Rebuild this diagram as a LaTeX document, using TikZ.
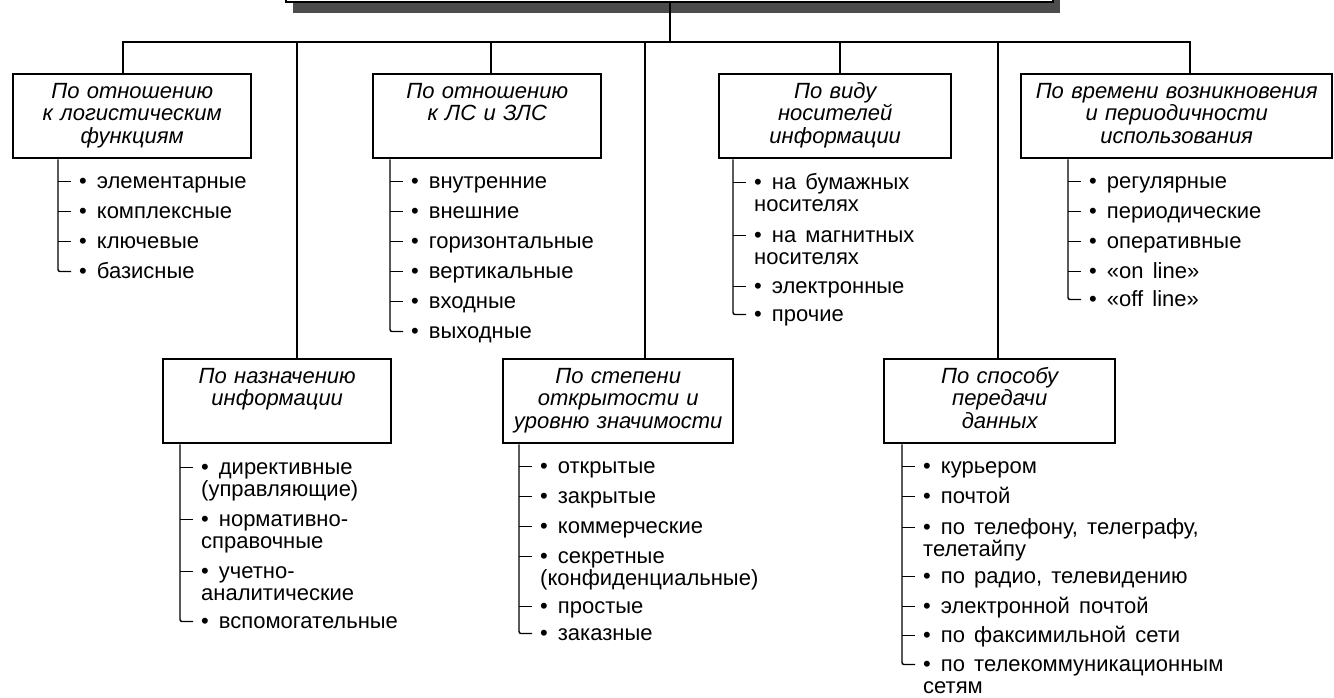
\documentclass[tikz,border=0pt]{standalone}
\usepackage{fontspec}
\setmainfont{Liberation Sans}[WordSpace=1.5]
\newfontfamily\headfont{Liberation Sans}[WordSpace=1.8]
% two-line entry whose baseline is that of its first line
\newcommand\pairlines[2]{\vtop{\hbox{#1}\hbox{#2}}}
\begin{document}
\begin{tikzpicture}[x=1pt,y=-1pt,
  conn/.style={line width=2.4pt},
  catbox/.style={draw, line width=2.4pt, fill=white, inner xsep=0pt, inner ysep=0pt,
    anchor=north west, align=center, text height=24pt, text depth=60pt,
    font=\headfont\itshape\fontsize{22pt}{22.5pt}\selectfont},
  entry/.style={anchor=base west, inner sep=0pt,
    font=\fontsize{22pt}{22.5pt}\selectfont},
  twig/.style={line width=1.4pt},
]
\path[use as bounding box, clip] (0,0) rectangle (1334,697);

% heading box with its shadow (only its lower edge is in view)
\fill[black!70] (293,-60) rectangle (1060,13);
\node[draw, line width=2.4pt, fill=white, minimum width=767pt, minimum height=80pt,
  inner sep=0pt, anchor=south west] (head) at (285,3) {};

% category boxes
\node[catbox, text width=238pt] (b1) at (12,73) {По отношению\\к логистическим\\функциям};
\node[catbox, text width=228pt] (b2) at (372,73) {По отношению\\к ЛС и ЗЛС};
\node[catbox, text width=232pt] (b3) at (718,73) {По виду\\носителей\\информации};
\node[catbox, text width=311pt] (b4) at (1020,73) {По времени возникновения\\и периодичности\\использования};
\node[catbox, text width=228pt] (b5) at (162,358) {По назначению\\информации};
\node[catbox, text width=230pt] (b6) at (502,358) {По степени\\открытости и\\уровню значимости};
\node[catbox, text width=231pt] (b7) at (883,358) {По способу\\передачи\\данных};

% main bus
\coordinate (s) at (670,42);
\coordinate (d1) at (123,42);
\coordinate (d2) at (491,42);
\coordinate (d3) at (840,42);
\coordinate (d4) at (1190,42);
\coordinate (l1) at (297,42);
\coordinate (l2) at (645,42);
\coordinate (l3) at (998,42);
\draw[conn] (head.south -| s) -- (s);
\draw[conn] (d1 |- b1.north) -- (d1) -- (d4) -- (d4 |- b4.north);
\draw[conn] (d2) -- (d2 |- b2.north);
\draw[conn] (d3) -- (d3 |- b3.north);
\draw[conn] (l1) -- (l1 |- b5.north);
\draw[conn] (l2) -- (l2 |- b6.north);
\draw[conn] (l3) -- (l3 |- b7.north);

% item branches
\coordinate (v1) at (58,0);
\coordinate (v2) at (390,0);
\coordinate (v3) at (733,0);
\coordinate (v4) at (1068,0);
\coordinate (v5) at (180,0);
\coordinate (v6) at (519,0);
\coordinate (v7) at (902,0);

\foreach \k/\y/\t in {1/188/элементарные, 2/218/комплексные, 3/248/ключевые, 4/278/базисные}
  \node[entry] (e1-\k) at (79,\y) {•\hspace{10pt}\t};
\foreach \k/\y/\t in {1/188/внутренние, 2/218/внешние, 3/248/горизонтальные,
    4/278/вертикальные, 5/308/входные, 6/338/выходные}
  \node[entry] (e2-\k) at (411,\y) {•\hspace{10pt}\t};
\foreach \k/\y/\t in {1/189/{\pairlines{•\hspace{10pt}на бумажных}{носителях}},
    2/242/{\pairlines{•\hspace{10pt}на магнитных}{носителях}},
    3/293/{•\hspace{10pt}электронные}, 4/321/{•\hspace{10pt}прочие}}
  \node[entry] (e3-\k) at (754,\y) {\t};
\foreach \k/\y/\t in {1/188/регулярные, 2/218/периодические, 3/248/оперативные,
    4/278/«on line», 5/306/«off line»}
  \node[entry] (e4-\k) at (1089,\y) {•\hspace{10pt}\t};
\foreach \k/\y/\t in {1/474/{\pairlines{•\hspace{10pt}директивные}{(управляющие)}},
    2/526/{\pairlines{•\hspace{10pt}нормативно-}{справочные}},
    3/578/{\pairlines{•\hspace{10pt}учетно-}{аналитические}},
    4/628/{•\hspace{10pt}вспомогательные}}
  \node[entry] (e5-\k) at (201,\y) {\t};
\foreach \k/\y/\t in {1/473/{•\hspace{10pt}открытые}, 2/503/{•\hspace{10pt}закрытые},
    3/533/{•\hspace{10pt}коммерческие},
    4/563/{\pairlines{•\hspace{10pt}секретные}{(конфиденциальные)}},
    5/613/{•\hspace{10pt}простые}, 6/640/{•\hspace{10pt}заказные}}
  \node[entry] (e6-\k) at (540,\y) {\t};
\foreach \k/\y/\t in {1/473/{•\hspace{10pt}курьером}, 2/503/{•\hspace{10pt}почтой},
    3/534/{\pairlines{•\hspace{10pt}по телефону, телеграфу,}{телетайпу}},
    4/583/{•\hspace{10pt}по радио, телевидению}, 5/613/{•\hspace{10pt}электронной почтой},
    6/642/{•\hspace{10pt}по факсимильной сети},
    7/671/{\pairlines{•\hspace{10pt}по телекоммуникационным}{сетям}}}
  \node[entry] (e7-\k) at (923,\y) {\t};

% ticks and branch stems
\foreach \b/\n in {1/4, 2/6, 3/4, 4/5, 5/4, 6/6, 7/7}{
  \pgfmathtruncatemacro\m{\n-1}
  \foreach \k in {1,...,\m}
    \draw[twig] ([shift={(-8,-6.5)}]e\b-\k.base west) -- ++(-13,0);
  \draw[twig, rounded corners=2pt] (b\b.south -| v\b) |- ([shift={(-8,-6.5)}]e\b-\n.base west);
}
\end{tikzpicture}
\end{document}
